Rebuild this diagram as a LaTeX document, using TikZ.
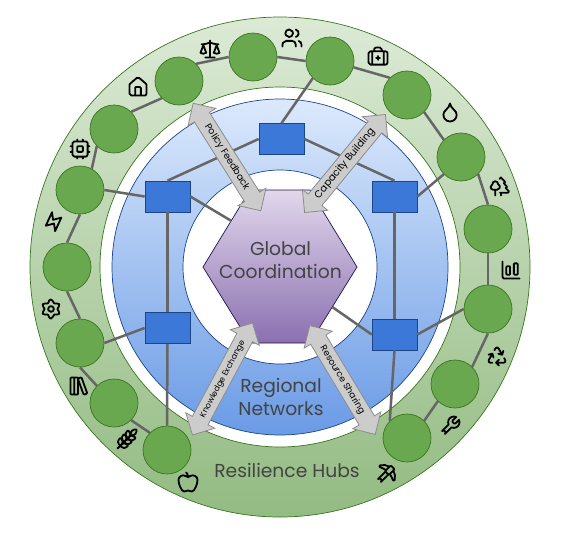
\documentclass[tikz,border=0pt]{standalone}
\usepackage{fontspec}
\setmainfont{Poppins}
\usepackage{xcolor}
\usepackage{tikz}
\usetikzlibrary{calc,shapes.arrows,svg.path}
\definecolor{ringgreen}{HTML}{38761D}
\definecolor{hubgreen}{HTML}{6AA84F}
\definecolor{ringblue}{HTML}{1C4587}
\definecolor{squareblue}{HTML}{3C78D8}
\definecolor{linkgray}{HTML}{666666}
\definecolor{labelgray}{HTML}{434343}
\definecolor{greentop}{HTML}{DCEAD6}
\definecolor{greenbottom}{HTML}{93BB82}
\definecolor{bluetop}{HTML}{DCE9FC}
\definecolor{bluebottom}{HTML}{6A9BE6}
\definecolor{hextop}{HTML}{E2D7EC}
\definecolor{hexbottom}{HTML}{8A70B0}
\definecolor{hexline}{HTML}{20124D}
\tikzset{
hub/.style={circle,draw=ringgreen,fill=hubgreen,line width=0.7pt,minimum size=48pt,inner sep=0pt},
square/.style={rectangle,draw=ringblue,fill=squareblue,line width=0.7pt,minimum width=45pt,minimum height=31pt,inner sep=0pt},
link/.style={draw=linkgray,line width=2.5pt},
flow/.style={double arrow,draw=black!45,fill=black!20,line width=0.8pt,double arrow head extend=7.5pt,double arrow tip angle=90,
text height=7pt,text depth=2pt,inner ysep=4pt,inner xsep=0pt,minimum height=127pt,font=\fontsize{9.4}{12}\selectfont},
bigtext/.style={text=labelgray,align=center,font=\fontsize{18.7}{23}\selectfont},
icon/.style={draw=black,line width=1.8pt,line cap=round,line join=round,xscale=0.95,yscale=-0.95,shift={(-12pt,-12pt)}},
balancepic/.pic={\draw[icon] svg {M 16 16 l 3 -8 l 3 8 c -0.87 0.65 -1.92 1 -3 1 s -2.13 -0.35 -3 -1 z M 2 16 l 3 -8 l 3 8 c -0.87 0.65 -1.92 1 -3 1 s -2.13 -0.35 -3 -1 z M 7 21 h 10 M 12 3 v 18 M 3 7 h 2 c 2 0 5 -1 7 -2 c 2 1 5 2 7 2 h 2};},
userspic/.pic={\draw[icon] svg {M 16 21 v -2 a 4 4 0 0 0 -4 -4 H 6 a 4 4 0 0 0 -4 4 v 2 M 13 7 a 4 4 0 1 1 -8 0 a 4 4 0 1 1 8 0 z M 22 21 v -2 a 4 4 0 0 0 -3 -3.87 M 16 3.13 a 4 4 0 0 1 0 7.75};},
casepic/.pic={\draw[icon] svg {M 12 11 v 4 M 14 13 h -4 M 16 6 V 4 a 2 2 0 0 0 -2 -2 h -4 a 2 2 0 0 0 -2 2 v 2 M 18 6 v 14 M 6 6 v 14 M 4 6 h 16 a 2 2 0 0 1 2 2 v 10 a 2 2 0 0 1 -2 2 H 4 a 2 2 0 0 1 -2 -2 V 8 a 2 2 0 0 1 2 -2 z};},
droppic/.pic={\draw[icon] svg {M 12 22 a 7 7 0 0 0 7 -7 c 0 -2 -1 -3.9 -3 -5.5 s -3.5 -4 -4 -6.5 c -0.5 2.5 -2 4.9 -4 6.5 C 6 11.1 5 13 5 15 a 7 7 0 0 0 7 7 z};},
treespic/.pic={\draw[icon] svg {M 10 10 v 0.2 A 3 3 0 0 1 8.9 16 H 5 a 3 3 0 0 1 -1 -5.8 V 10 a 3 3 0 0 1 6 0 z M 7 16 v 6 M 13 19 v 3 M 12 19 h 8.3 a 1 1 0 0 0 0.7 -1.7 L 18 14 h 0.3 a 1 1 0 0 0 0.7 -1.7 L 16 9 h 0.2 a 1 1 0 0 0 0.8 -1.7 L 13 3 l -1.4 1.5};},
chartpic/.pic={\draw[icon] svg {M 3 3 v 16 a 2 2 0 0 0 2 2 h 16 M 16 5 h 2 a 1 1 0 0 1 1 1 v 10 a 1 1 0 0 1 -1 1 h -2 a 1 1 0 0 1 -1 -1 V 6 a 1 1 0 0 1 1 -1 z M 8 8 h 2 a 1 1 0 0 1 1 1 v 7 a 1 1 0 0 1 -1 1 H 8 a 1 1 0 0 1 -1 -1 V 9 a 1 1 0 0 1 1 -1 z};},
recyclepic/.pic={\draw[icon] svg {M 7 19 H 4.815 a 1.83 1.83 0 0 1 -1.57 -0.881 a 1.785 1.785 0 0 1 -0.004 -1.784 L 7.196 9.5 M 11 19 h 8.203 a 1.83 1.83 0 0 0 1.556 -0.89 a 1.784 1.784 0 0 0 0 -1.775 l -1.226 -2.12 M 14 16 l -3 3 l 3 3 M 8.293 13.596 L 7.196 9.5 L 3.1 10.598 M 9.344 5.811 l 1.093 -1.892 A 1.83 1.83 0 0 1 11.985 3 a 1.784 1.784 0 0 1 1.546 0.888 l 3.943 6.843 M 13.378 9.633 l 4.096 1.098 l 1.097 -4.096};},
wrenchpic/.pic={\draw[icon] svg {M 14.7 6.3 a 1 1 0 0 0 0 1.4 l 1.6 1.6 a 1 1 0 0 0 1.4 0 l 3.77 -3.77 a 6 6 0 0 1 -7.94 7.94 l -6.91 6.91 a 2.12 2.12 0 0 1 -3 -3 l 6.91 -6.91 a 6 6 0 0 1 7.94 -7.94 l -3.76 3.76 z};},
pickpic/.pic={\draw[icon] svg {M 14.531 12.469 L 6.619 20.38 a 1 1 0 1 1 -3 -3 l 7.912 -7.912 M 15.686 4.314 A 12.5 12.5 0 0 0 5.461 2.958 a 1 1 0 0 0 0.119 1.752 a 22 22 0 0 1 6.318 3.393 M 17.7 3.7 a 1 1 0 0 0 -1.4 0 l -4.6 4.6 a 1 1 0 0 0 0 1.4 l 2.6 2.6 a 1 1 0 0 0 1.4 0 l 4.6 -4.6 a 1 1 0 0 0 0 -1.4 z M 19.686 8.314 a 12.501 12.501 0 0 1 1.356 10.225 a 1 1 0 0 1 -1.751 -0.119 a 22 22 0 0 0 -3.393 -6.319};},
applepic/.pic={\draw[icon] svg {M 12 20.94 c 1.5 0 2.75 1.06 4 1.06 c 3 0 6 -8 6 -12.22 A 4.91 4.91 0 0 0 17 5 c -2.22 0 -4 1.44 -5 2 c -1 -0.56 -2.78 -2 -5 -2 a 4.9 4.9 0 0 0 -5 4.78 C 2 14 5 22 8 22 c 1.25 0 2.5 -1.06 4 -1.06 z M 10 2 c 1 0.5 2 2 2 5};},
wheatpic/.pic={\draw[icon] svg {M 2 22 L 16 8 M 3.47 12.53 L 5 11 l 1.53 1.53 a 3.5 3.5 0 0 1 0 4.94 L 5 19 l -1.53 -1.53 a 3.5 3.5 0 0 1 0 -4.94 z M 7.47 8.53 L 9 7 l 1.53 1.53 a 3.5 3.5 0 0 1 0 4.94 L 9 15 l -1.53 -1.53 a 3.5 3.5 0 0 1 0 -4.94 z M 11.47 4.53 L 13 3 l 1.53 1.53 a 3.5 3.5 0 0 1 0 4.94 L 13 11 l -1.53 -1.53 a 3.5 3.5 0 0 1 0 -4.94 z M 20 2 h 2 v 2 a 4 4 0 0 1 -4 4 h -2 V 6 a 4 4 0 0 1 4 -4 z M 11.47 17.47 L 13 19 l -1.53 1.53 a 3.5 3.5 0 0 1 -4.94 0 L 5 19 l 1.53 -1.53 a 3.5 3.5 0 0 1 4.94 0 z M 15.47 13.47 L 17 15 l -1.53 1.53 a 3.5 3.5 0 0 1 -4.94 0 L 9 15 l 1.53 -1.53 a 3.5 3.5 0 0 1 4.94 0 z M 19.47 9.47 L 21 11 l -1.53 1.53 a 3.5 3.5 0 0 1 -4.94 0 L 13 11 l 1.53 -1.53 a 3.5 3.5 0 0 1 4.94 0 z};},
bookspic/.pic={\draw[icon] svg {M 4 3 h 6 a 1 1 0 0 1 1 1 v 16 a 1 1 0 0 1 -1 1 H 4 a 1 1 0 0 1 -1 -1 V 4 a 1 1 0 0 1 1 -1 z M 7 3 v 18 M 20.4 18.9 c 0.2 0.5 -0.1 1.1 -0.6 1.3 l -1.9 0.7 c -0.5 0.2 -1.1 -0.1 -1.3 -0.6 L 11.1 5.1 c -0.2 -0.5 0.1 -1.1 0.6 -1.3 l 1.9 -0.7 c 0.5 -0.2 1.1 0.1 1.3 0.6 z};},
gearpic/.pic={\draw[icon] svg {M 12.22 2 h -0.44 a 2 2 0 0 0 -2 2 v 0.18 a 2 2 0 0 1 -1 1.73 l -0.43 0.25 a 2 2 0 0 1 -2 0 l -0.15 -0.08 a 2 2 0 0 0 -2.73 0.73 l -0.22 0.38 a 2 2 0 0 0 0.73 2.73 l 0.15 0.1 a 2 2 0 0 1 1 1.72 v 0.51 a 2 2 0 0 1 -1 1.74 l -0.15 0.09 a 2 2 0 0 0 -0.73 2.73 l 0.22 0.38 a 2 2 0 0 0 2.73 0.73 l 0.15 -0.08 a 2 2 0 0 1 2 0 l 0.43 0.25 a 2 2 0 0 1 1 1.73 V 20 a 2 2 0 0 0 2 2 h 0.44 a 2 2 0 0 0 2 -2 v -0.18 a 2 2 0 0 1 1 -1.73 l 0.43 -0.25 a 2 2 0 0 1 2 0 l 0.15 0.08 a 2 2 0 0 0 2.73 -0.73 l 0.22 -0.39 a 2 2 0 0 0 -0.73 -2.73 l -0.15 -0.08 a 2 2 0 0 1 -1 -1.74 v -0.5 a 2 2 0 0 1 1 -1.74 l 0.15 -0.09 a 2 2 0 0 0 0.73 -2.73 l -0.22 -0.38 a 2 2 0 0 0 -2.73 -0.73 l -0.15 0.08 a 2 2 0 0 1 -2 0 l -0.43 -0.25 a 2 2 0 0 1 -1 -1.73 V 4 a 2 2 0 0 0 -2 -2 z M 15 12 a 3 3 0 1 1 -6 0 a 3 3 0 1 1 6 0 z};},
boltpic/.pic={\draw[icon,rotate=-15] svg {M 13 2 L 3 14 H 12 L 11 22 L 21 10 H 12 z};},
chippic/.pic={\draw[icon] svg {M 6 4 h 12 a 2 2 0 0 1 2 2 v 12 a 2 2 0 0 1 -2 2 H 6 a 2 2 0 0 1 -2 -2 V 6 a 2 2 0 0 1 2 -2 z M 10 9 h 4 a 1 1 0 0 1 1 1 v 4 a 1 1 0 0 1 -1 1 h -4 a 1 1 0 0 1 -1 -1 v -4 a 1 1 0 0 1 1 -1 z M 15 2 v 2 M 15 20 v 2 M 2 15 h 2 M 2 9 h 2 M 20 15 h 2 M 20 9 h 2 M 9 2 v 2 M 9 20 v 2};},
housepic/.pic={\draw[icon] svg {M 15 21 v -8 a 1 1 0 0 0 -1 -1 h -4 a 1 1 0 0 0 -1 1 v 8 M 3 10 a 2 2 0 0 1 0.709 -1.528 l 7 -5.999 a 2 2 0 0 1 2.582 0 l 7 5.999 A 2 2 0 0 1 21 10 v 9 a 2 2 0 0 1 -2 2 H 5 a 2 2 0 0 1 -2 -2 z};}
}

\begin{document}
\begin{tikzpicture}[x=1pt,y=-1pt]
\useasboundingbox (0,0) rectangle (567,536);
\draw[draw=ringgreen,line width=0.7pt,even odd rule,top color=greentop,bottom color=greenbottom] (280,267) circle (250) (280,267) circle (180);
\draw[draw=ringblue,line width=0.7pt,even odd rule,top color=bluetop,bottom color=bluebottom] (280,267) circle (168) (280,267) circle (97);

\coordinate (hexW) at (203,267);
\coordinate (hexNW) at (250,190);
\coordinate (hexNE) at (310,190);
\coordinate (hexE) at (357,267);
\coordinate (hexSE) at (310,343);
\coordinate (hexSW) at (250,343);
\coordinate (hexA) at ($(hexW)!0.6!(hexNW)$);
\coordinate (hexB) at ($(hexE)!0.526!(hexSE)$);
\draw[draw=hexline,line width=0.7pt,top color=hextop,bottom color=hexbottom] (hexW) -- (hexNW) -- (hexNE) -- (hexE) -- (hexSE) -- (hexSW) -- cycle;

\node (h1) at (253,57)[hub] {};
\node (h2) at (330,61)[hub] {};
\node (h3) at (407,95)[hub] {};
\node (h4) at (461,157)[hub] {};
\node (h5) at (488,229)[hub] {};
\node (h6) at (488,309)[hub] {};
\node (h7) at (455,384)[hub] {};
\node (h8) at (407,438)[hub] {};
\node (h9) at (167,450)[hub] {};
\node (h10) at (114,403)[hub] {};
\node (h11) at (80,343)[hub] {};
\node (h12) at (67,267)[hub] {};
\node (h13) at (80,190)[hub] {};
\node (h14) at (114,129)[hub] {};
\node (h15) at (179,81)[hub] {};

\node (s1) at (281.5,139)[square] {};
\node (s2) at (394.5,196.5)[square] {};
\node (s3) at (394.5,334.5)[square] {};
\node (s4) at (167.5,328)[square] {};
\node (s5) at (167.5,196.5)[square] {};

\draw[link] (h15.45) -- (h1.west);
\draw[link] (h1.east) -- (h2.west);
\draw[link] (h2.-15) -- (h3.135);
\draw[link] (h3.-45) -- (h4.135);
\draw[link] (h4.-45) -- (h5.north);
\draw[link] (h5.south) -- (h6.north);
\draw[link] (h6.south) -- (h7.45);
\draw[link] (h7.225) -- (h8.45);
\draw[link] (h9.135) -- (h10.-45);
\draw[link] (h10.135) -- (h11.south);
\draw[link] (h11.north) -- (h12.south);
\draw[link] (h12.north) -- (h13.south);
\draw[link] (h13.61) -- (h14.225);
\draw[link] (h14.45) -- (h15.225);

\draw[link] (s1.north) -- (h2.225);
\draw[link] (s1.west) -- (s5.north);
\draw[link] (s1.east) -- (s2.north);
\draw[link] (s2.east) -- (h4.225);
\draw[link] (s2.south) -- (s3.north);
\draw[link] (s3.east) -- (h6.west);
\draw[link] (s3.west) -- (hexB);
\draw[link] (s3.south) -- (h8.135);
\draw[link] (s4.north) -- (s5.south);
\draw[link] (s4.west) -- (h11.east);
\draw[link] (s4.south) -- (h9.north);
\draw[link] (s5.west) -- (h13.east);
\draw[link] (s5.east) -- (hexA);

\node (coord) at (280.5,260)[bigtext] {Global\\Coordination};
\node (regional) at (281,397)[bigtext] {Regional\\Networks};
\node (resilience) at (287,470)[bigtext] {Resilience Hubs};

\node (policy) at (227,157)[flow,rotate=-57.8] {Policy Feedback};
\node (capacity) at (345,163.5)[flow,rotate=50.5,font=\fontsize{10}{12}\selectfont] {Capacity Building};
\node (knowledge) at (222.5,379)[flow,rotate=61.8,font=\fontsize{8.1}{12}\selectfont] {Knowledge Exchange};
\node (resource) at (342.5,380)[flow,rotate=-59,font=\fontsize{9}{12}\selectfont] {Resource Sharing};

\pic at (210,49) {balancepic};
\pic at (292,38) {userspic};
\pic at (378,57) {casepic};
\pic at (450,112) {droppic};
\pic at (500,186) {treespic};
\pic at (511,270) {chartpic};
\pic at (497,356) {recyclepic};
\pic at (450,426) {wrenchpic};
\pic at (386,474) {pickpic};
\pic at (188,482) {applepic};
\pic at (127,439) {wheatpic};
\pic at (79,386) {bookspic};
\pic at (51,309) {gearpic};
\pic at (51,225) {boltpic};
\pic at (80,149) {chippic};
\pic at (138,87) {housepic};
\end{tikzpicture}
\end{document}
